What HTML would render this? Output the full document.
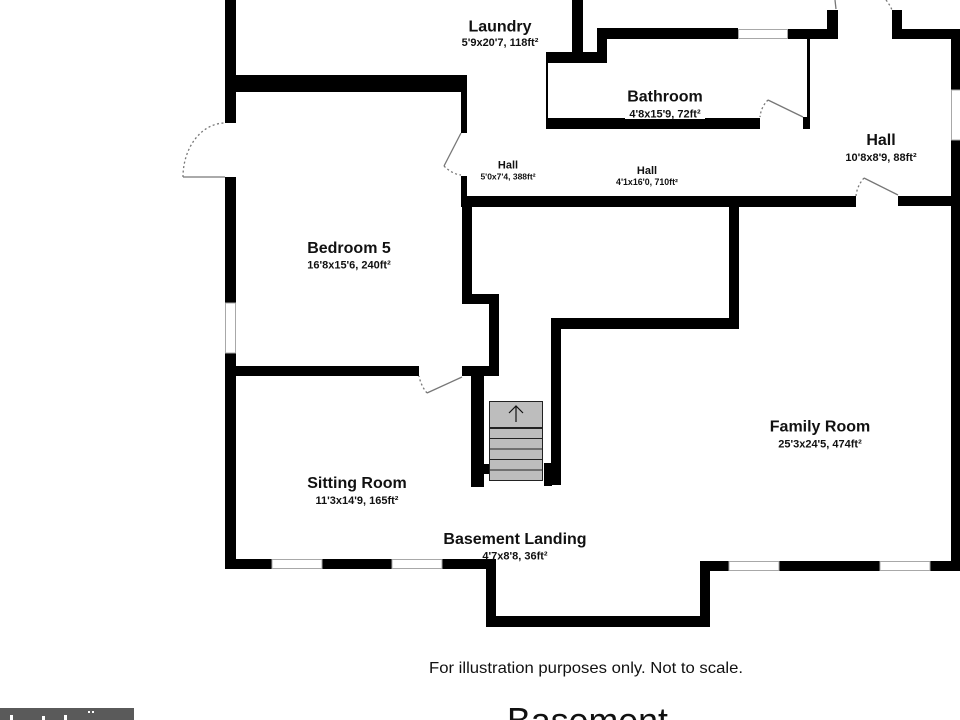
<!DOCTYPE html>
<html>
<head>
<meta charset="utf-8">
<style>
  html, body { margin: 0; padding: 0; background: #fff; }
  body { width: 960px; height: 720px; overflow: hidden; }
  svg { display: block; }
  .t { font-family: "Liberation Sans", Arial, sans-serif; font-weight: bold; fill: #111; text-anchor: middle; }
</style>
</head>
<body>
<svg width="960" height="720" viewBox="0 0 960 720" xmlns="http://www.w3.org/2000/svg">
  <rect x="0" y="0" width="960" height="720" fill="#fff"/>

  <g fill="#000">
    <!-- left outer wall -->
    <rect x="225" y="0" width="11" height="123"/>
    <rect x="225" y="177" width="11" height="126"/>
    <rect x="225" y="353" width="11" height="216"/>
    <!-- laundry/bedroom wall -->
    <rect x="236" y="75" width="231" height="17"/>
    <rect x="461" y="75" width="6" height="58"/>
    <rect x="461" y="176" width="6" height="31"/>
    <!-- laundry right wall -->
    <rect x="572" y="0" width="11" height="53"/>
    <rect x="546" y="52" width="61" height="11"/>
    <rect x="597" y="28" width="10" height="35"/>
    <!-- bathroom top wall -->
    <rect x="597" y="28" width="141" height="11"/>
    <rect x="788" y="29" width="50" height="10"/>
    <rect x="827" y="10" width="11" height="29"/>
    <rect x="892" y="10" width="10" height="29"/>
    <rect x="892" y="29" width="68" height="10"/>
    <!-- bathroom left thin, bottom, right -->
    <rect x="546" y="63" width="2" height="55"/>
    <rect x="546" y="118" width="214" height="11"/>
    <rect x="807" y="39" width="3" height="90"/>
    <rect x="803" y="117" width="7" height="12"/>
    <!-- right outer wall -->
    <rect x="951" y="29" width="9" height="61"/>
    <rect x="951" y="140" width="9" height="431"/>
    <!-- hall bottom wall -->
    <rect x="461" y="196" width="395" height="11"/>
    <rect x="898" y="196" width="53" height="10"/>
    <!-- bedroom right wall with jog -->
    <rect x="462" y="207" width="10" height="97"/>
    <rect x="462" y="294" width="37" height="10"/>
    <rect x="489" y="294" width="10" height="82"/>
    <rect x="462" y="366" width="37" height="10"/>
    <!-- bedroom/sitting wall -->
    <rect x="236" y="366" width="183" height="10"/>
    <!-- left stair wall -->
    <rect x="471" y="376" width="13" height="111"/>
    <rect x="471" y="464" width="19" height="10"/>
    <!-- right stair wall & family room inner walls -->
    <rect x="729" y="206" width="10" height="123"/>
    <rect x="551" y="318" width="188" height="11"/>
    <rect x="551" y="318" width="10" height="167"/>
    <rect x="544" y="463" width="8" height="23"/>
    <!-- bottom walls -->
    <rect x="225" y="559" width="271" height="10"/>
    <rect x="486" y="559" width="10" height="68"/>
    <rect x="486" y="616" width="224" height="11"/>
    <rect x="700" y="561" width="10" height="66"/>
    <rect x="700" y="561" width="260" height="10"/>
  </g>

  <!-- windows -->
  <g fill="#fff" stroke="#a8a8a8" stroke-width="1">
    <rect x="738.5" y="29.5" width="49" height="9"/>
    <rect x="951.5" y="90" width="9" height="50"/>
    <rect x="225.5" y="303" width="10" height="50"/>
    <rect x="272" y="559.5" width="50" height="9"/>
    <rect x="392" y="559.5" width="50" height="9"/>
    <rect x="729" y="561.5" width="50" height="9"/>
    <rect x="880" y="561.5" width="50" height="9"/>
  </g>

  <!-- doors -->
  <g fill="none" stroke="#777" stroke-width="1.3">
    <!-- bedroom left exterior door -->
    <line x1="225" y1="177" x2="183" y2="177"/>
    <path d="M183 177 A 42 54 0 0 1 225 123" stroke-dasharray="2 2.5"/>
    <!-- bedroom to hall door -->
    <line x1="461" y1="133" x2="444" y2="166"/>
    <path d="M444 166 Q 452 174 461 175" stroke-dasharray="2 2.5"/>
    <!-- bathroom door -->
    <line x1="768" y1="100" x2="803" y2="117"/>
    <path d="M768 100 Q 761 107 760 117" stroke-dasharray="2 2.5"/>
    <!-- hall right door -->
    <line x1="864" y1="178" x2="898" y2="195"/>
    <path d="M864 178 Q 857 186 856 196" stroke-dasharray="2 2.5"/>
    <!-- top door -->
    <line x1="835" y1="0" x2="836" y2="9"/>
    <path d="M886 0 Q 890 5 892 10" stroke-dasharray="2 2.5"/>
    <!-- bedroom 5 bottom door -->
    <line x1="462" y1="377" x2="427" y2="393"/>
    <path d="M427 393 Q 421 386 419 376" stroke-dasharray="2 2.5"/>
  </g>

  <!-- stairs -->
  <g stroke="#222" stroke-width="1">
    <rect x="489.5" y="401.5" width="53" height="26" fill="#bdbdbd"/>
    <rect x="489.5" y="428.5" width="53" height="10" fill="#bdbdbd"/>
    <rect x="489.5" y="438.5" width="53" height="10.5" fill="#bdbdbd"/>
    <rect x="489.5" y="449" width="53" height="10.5" fill="#bdbdbd"/>
    <rect x="489.5" y="459.5" width="53" height="10.5" fill="#bdbdbd"/>
    <rect x="489.5" y="470" width="53" height="10.5" fill="#bdbdbd"/>
    <line x1="489" y1="428" x2="543" y2="428" stroke-width="1.8"/>
  </g>
  <g stroke="#111" stroke-width="1.2" fill="none">
    <line x1="516" y1="422" x2="516" y2="406"/>
    <polyline points="509,413 516,406 523,413"/>
  </g>

  <!-- labels -->
  <text class="t" x="500" y="31.5" font-size="16">Laundry</text>
  <text class="t" x="500" y="46" font-size="11">5'9x20'7, 118ft²</text>

  <text class="t" x="665" y="101.5" font-size="16">Bathroom</text>
  <rect x="625" y="108" width="80" height="11" fill="#fff"/>
  <text class="t" x="665" y="117.5" font-size="11">4'8x15'9, 72ft²</text>

  <text class="t" x="508" y="168.5" font-size="11">Hall</text>
  <text class="t" x="508" y="179.5" font-size="8.5">5'0x7'4, 388ft²</text>

  <text class="t" x="647" y="174" font-size="11">Hall</text>
  <text class="t" x="647" y="185" font-size="8.8">4'1x16'0, 710ft²</text>

  <text class="t" x="881" y="145" font-size="16">Hall</text>
  <text class="t" x="881" y="161" font-size="11">10'8x8'9, 88ft²</text>

  <text class="t" x="349" y="253" font-size="16">Bedroom 5</text>
  <text class="t" x="349" y="268.5" font-size="11">16'8x15'6, 240ft²</text>

  <text class="t" x="357" y="488" font-size="16">Sitting Room</text>
  <text class="t" x="357" y="504" font-size="11">11'3x14'9, 165ft²</text>

  <text class="t" x="515" y="544" font-size="16">Basement Landing</text>
  <text class="t" x="515" y="559.5" font-size="11">4'7x8'8, 36ft²</text>

  <text class="t" x="820" y="431.5" font-size="16">Family Room</text>
  <text class="t" x="820" y="447.5" font-size="11">25'3x24'5, 474ft²</text>

  <!-- footer -->
  <text x="429" y="673" font-family="Liberation Sans, Arial, sans-serif" font-size="16" fill="#111" textLength="314" lengthAdjust="spacingAndGlyphs">For illustration purposes only. Not to scale.</text>
  <text x="507" y="733" font-family="Liberation Sans, Arial, sans-serif" font-size="36" fill="#111" textLength="161" lengthAdjust="spacingAndGlyphs">Basement</text>

  <!-- bottom-left badge -->
  <rect x="0" y="708" width="134" height="12" fill="#5a5a5a"/>
  <g fill="#fff">
    <rect x="10" y="715" width="3" height="5"/>
    <rect x="42" y="716" width="3" height="4"/>
    <rect x="64" y="715" width="3" height="5"/>
    <rect x="88" y="711" width="2" height="2"/>
    <rect x="92" y="711" width="2" height="2"/>
  </g>
</svg>
</body>
</html>
